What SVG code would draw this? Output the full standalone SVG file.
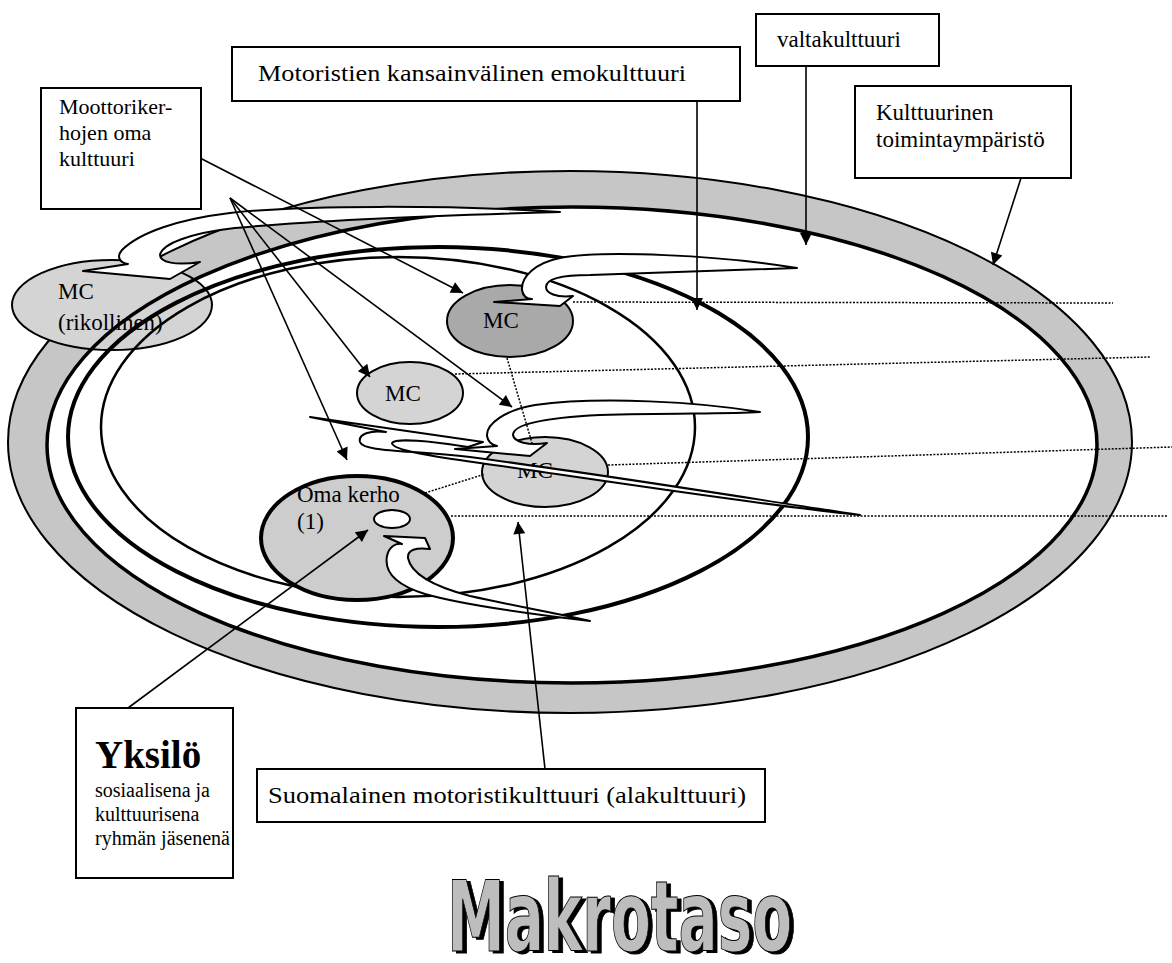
<svg xmlns="http://www.w3.org/2000/svg" width="1172" height="963" viewBox="0 0 1172 963">
<defs>
<style>
.lbl{font-family:"Liberation Serif","Times New Roman",serif;font-size:23px;fill:#000}
.sm{font-family:"Liberation Serif","Times New Roman",serif;font-size:20px;fill:#000}
.box{fill:#fff;stroke:#000;stroke-width:2}
.swirl{fill:#fff;stroke:#000;stroke-width:2;stroke-linejoin:round}
.mc{fill:#d4d4d4;stroke:#000;stroke-width:2}
.con{fill:none;stroke:#000;stroke-width:1.6}
.dot{fill:none;stroke:#000;stroke-width:1.5;stroke-dasharray:2 1.5}
.ttl{font-family:"Liberation Sans Narrow","DejaVu Sans Condensed","Liberation Sans",sans-serif;font-weight:bold;font-size:98px}
</style>
<marker id="ah" viewBox="0 0 10 10" refX="10" refY="5" markerWidth="16" markerHeight="12" markerUnits="userSpaceOnUse" orient="auto">
<path d="M0,0 L10,5 L0,10 Z" fill="#000"/>
</marker>
<filter id="shadow" x="-5%" y="-10%" width="115%" height="125%">
<feOffset in="SourceAlpha" dx="4" dy="2" result="off"/>
<feMerge><feMergeNode in="off"/><feMergeNode in="SourceGraphic"/></feMerge>
</filter>
</defs>
<rect width="1172" height="963" fill="#fff"/>

<g id="band">
<ellipse cx="570" cy="442" rx="562" ry="271" fill="#c6c6c6" stroke="#000" stroke-width="2"/>
<ellipse cx="572" cy="445" rx="525" ry="238" fill="#fff"/>
</g>

<g id="mc-rikollinen">
<ellipse class="mc" cx="112" cy="305" rx="100" ry="45"/>
<text class="lbl" x="58" y="299">MC</text>
<text class="lbl" x="58" y="330">(rikollinen)</text>
</g>

<g id="rings">
<ellipse cx="572" cy="445" rx="525" ry="238" fill="none" stroke="#000" stroke-width="3.5"/>
<ellipse cx="438" cy="437" rx="370" ry="190" fill="none" stroke="#000" stroke-width="4"/>
<ellipse cx="398" cy="427" rx="297" ry="170" fill="none" stroke="#000" stroke-width="2.5"/>
</g>

<g id="swirl-top">
<path class="swirl" d="M560,212 C450,205 300,205 230,213 C180,219 140,232 122,250 C116,257 120,263 128,264 L83,271 L170,279 L200,262 C175,266 160,262 160,255 C162,244 190,233 235,228 C320,220 450,215 560,212 Z"/>
</g>

<g id="mc-upper">
<ellipse cx="510" cy="321" rx="63" ry="36" fill="#a9a9a9" stroke="#000" stroke-width="2"/>
<text class="lbl" x="483" y="328">MC</text>
</g>
<g id="mc-mid">
<ellipse class="mc" cx="410" cy="393" rx="53" ry="31"/>
<text class="lbl" x="385" y="401">MC</text>
</g>
<g id="mc-lower">
<ellipse class="mc" cx="545" cy="472" rx="63" ry="35"/>
<text class="lbl" x="517" y="478">MC</text>
</g>
<g id="oma-kerho">
<ellipse cx="357" cy="538" rx="96" ry="62" fill="#cdcdcd" stroke="#000" stroke-width="4"/>
<text class="lbl" x="297" y="502">Oma kerho</text>
<text class="lbl" x="297" y="529">(1)</text>
<ellipse cx="392" cy="519" rx="18" ry="9" fill="#fff" stroke="#000" stroke-width="2"/>
</g>

<g id="swirls">
<path class="swirl" d="M797,268 C720,255 600,250 560,258 C535,263 521,277 522,290 C523,296 527,299 532,299 L494,302 L560,306 L573,296 C556,298 546,293 546,287 C546,279 560,275 590,275 C680,272 750,270 797,268 Z"/>
<path class="swirl" d="M760,412 C700,402 600,396 535,405 C505,410 486,424 487,436 C488,442 492,445 497,446 L455,449 L530,456 L547,443 C528,446 514,442 513,435 C513,425 540,418 600,415 C680,413 730,414 760,412 Z"/>
<path class="swirl" d="M860,515 C760,500 600,474 470,457 C410,450 363,452 360,442 C358,434 370,430 386,432 L310,417 L483,442 L468,447 C430,441 395,438 392,443 C392,450 430,456 480,463 C600,480 760,505 860,515 Z"/>
<path class="swirl" d="M590,621 C530,614 460,604 425,594 C396,585 384,572 387,556 C389,547 395,543 402,544 L384,536 L425,538 L430,549 C416,547 407,550 408,558 C411,574 432,586 470,596 C520,607 560,614 590,621 Z"/>
</g>

<g id="dotted">
<path class="dot" d="M573,302 L1113,303"/>
<path class="dot" d="M455,374 L1150,357"/>
<path class="dot" d="M608,465 L1172,447"/>
<path class="dot" d="M451,516 L1167,516"/>
<path class="dot" d="M507,358 L532,443"/>
<path class="dot" d="M425,493 L485,474"/>
</g>

<g id="connectors">
<path class="con" d="M200,158 L463,293" marker-end="url(#ah)"/>
<path class="con" d="M230,198 L370,377" marker-end="url(#ah)"/>
<path class="con" d="M230,198 L347,460" marker-end="url(#ah)"/>
<path class="con" d="M230,198 L512,407" marker-end="url(#ah)"/>
<path class="con" d="M806,66 L806,245" marker-end="url(#ah)"/>
<path class="con" d="M697,101 L697,310" marker-end="url(#ah)"/>
<path class="con" d="M1021,178 L993,265" marker-end="url(#ah)"/>
<path class="con" d="M128,708 L368,530" marker-end="url(#ah)"/>
<path class="con" d="M545,769 L518,522" marker-end="url(#ah)"/>
</g>

<g id="box-moottori">
<rect class="box" x="41" y="88" width="160" height="121"/>
<text class="lbl" x="59" y="114" style="font-size:22px">Moottoriker-</text>
<text class="lbl" x="59" y="140" style="font-size:22px">hojen oma</text>
<text class="lbl" x="59" y="166" style="font-size:22px">kulttuuri</text>
</g>
<g id="box-emo">
<rect class="box" x="232" y="47" width="508" height="54"/>
<text class="lbl" x="258" y="81" textLength="428" lengthAdjust="spacingAndGlyphs">Motoristien kansainvälinen emokulttuuri</text>
</g>
<g id="box-valta">
<rect class="box" x="756" y="14" width="183" height="52"/>
<text class="lbl" x="777" y="47">valtakulttuuri</text>
</g>
<g id="box-ymparisto">
<rect class="box" x="855" y="86" width="216" height="92"/>
<text class="lbl" x="876" y="120">Kulttuurinen</text>
<text class="lbl" x="876" y="147">toimintaympäristö</text>
</g>
<g id="box-yksilo">
<rect class="box" x="76" y="708" width="157" height="170"/>
<text x="95" y="768" style="font-family:'Liberation Serif',serif;font-weight:bold;font-size:39px">Yksilö</text>
<text class="sm" x="95" y="797">sosiaalisena ja</text>
<text class="sm" x="95" y="821">kulttuurisena</text>
<text class="sm" x="95" y="845">ryhmän jäsenenä</text>
</g>
<g id="box-suomi">
<rect class="box" x="257" y="769" width="508" height="53"/>
<text class="lbl" x="268" y="803" textLength="478" lengthAdjust="spacingAndGlyphs">Suomalainen motoristikulttuuri (alakulttuuri)</text>
</g>

<g id="title">
<text class="ttl" x="447" y="951" textLength="345" lengthAdjust="spacingAndGlyphs" fill="#bdbdbd" stroke="#000" stroke-width="1" filter="url(#shadow)">Makrotaso</text>
</g>
</svg>
